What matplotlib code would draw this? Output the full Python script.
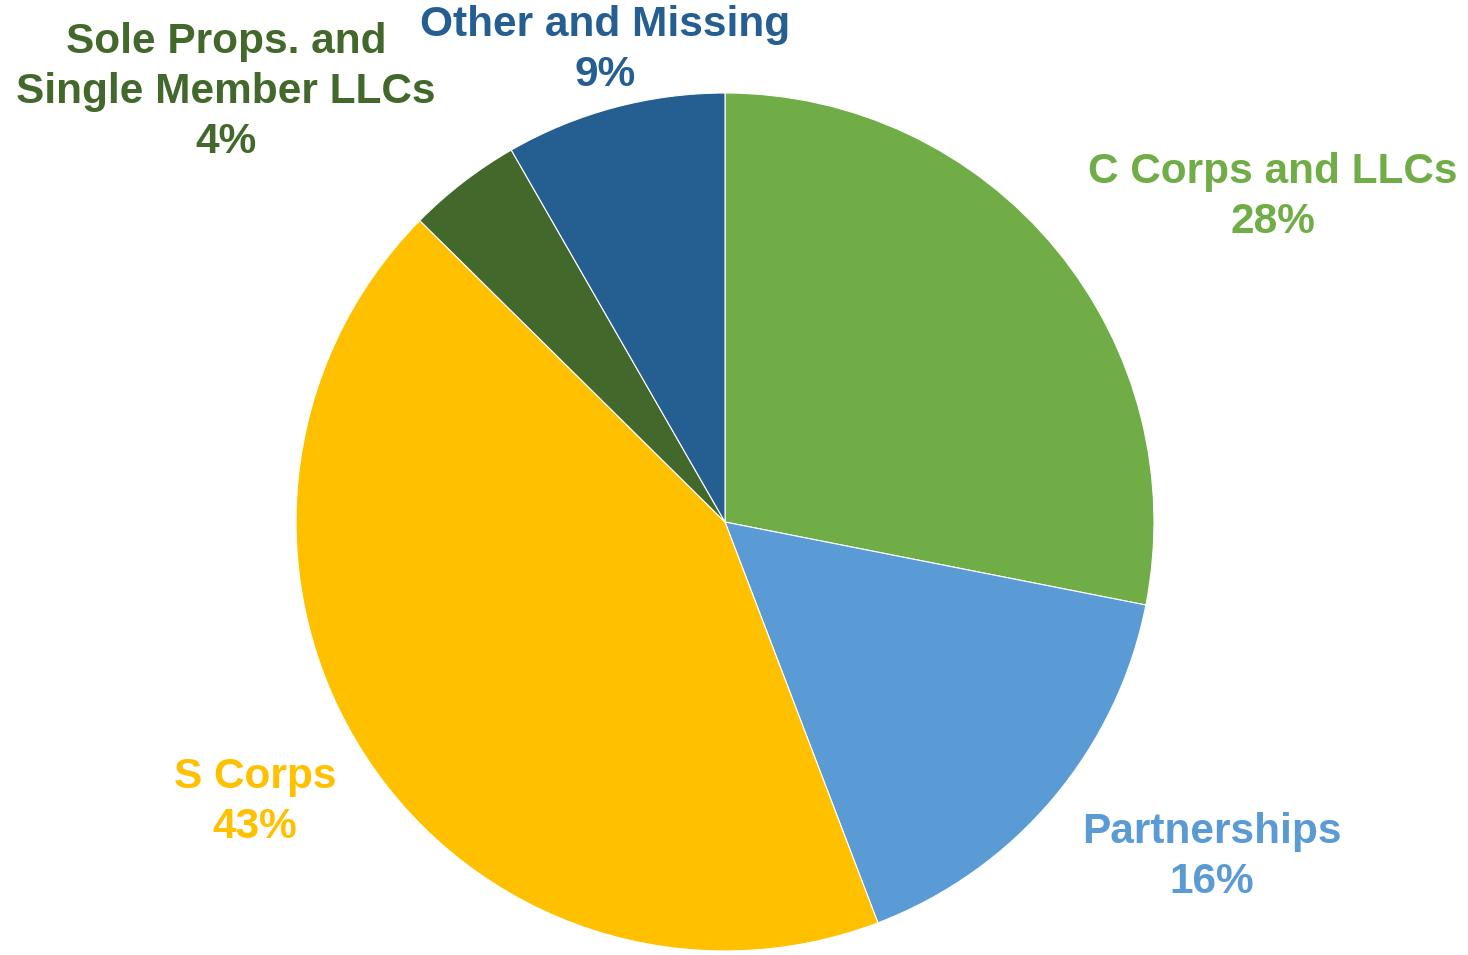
import matplotlib
matplotlib.use('Agg')
import matplotlib.pyplot as plt

# slice shares (clockwise from 12 o'clock)
labels = ['C Corps and LLCs', 'Partnerships', 'S Corps',
          'Sole Props. and\nSingle Member LLCs', 'Other and Missing']
shares = [28.1, 16.1, 43.2, 4.3, 8.3]
pct_text = ['28%', '16%', '43%', '4%', '9%']
colors = ['#70AD47', '#5B9BD5', '#FFC000', '#43682B', '#255E91']

W, H = 1468, 955
fig = plt.figure(figsize=(W/100, H/100), dpi=100)
ax = fig.add_axes([0, 0, 1, 1])

cx, cy, r = 725, H - 522, 429
ax.pie(shares, colors=colors, startangle=90, counterclock=False,
       center=(cx, cy), radius=r, frame=True,
       wedgeprops=dict(edgecolor='white', linewidth=0.8))
ax.set_xlim(0, W); ax.set_ylim(0, H)
ax.axis('off')

# label anchor points (pixel centres of text blocks, y from top)
label_pos = [(1273, 197), (1212, 857), (255, 802), (226, 92), (605, 50)]
for lab, pct, col, (x, y) in zip(labels, pct_text, colors, label_pos):
    ax.text(x, H - y, f'{lab}\n{pct}', color=col, ha='center', va='center',
            fontsize=30.5, fontweight='bold', family='Liberation Sans',
            linespacing=1.31)

fig.savefig('out.png', dpi=100)
